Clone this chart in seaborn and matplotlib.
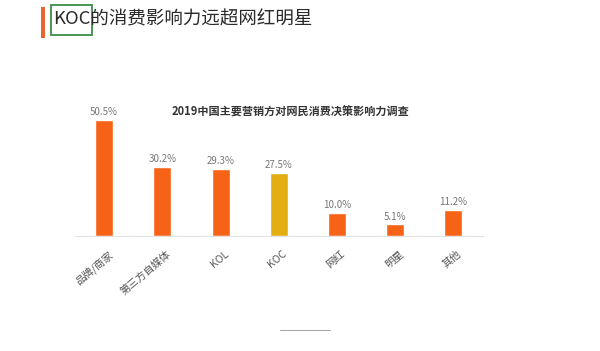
import matplotlib
matplotlib.use("Agg")
import matplotlib.pyplot as plt
import seaborn as sns
import pandas as pd
from matplotlib.patches import Rectangle
from matplotlib.lines import Line2D

categories = ["品牌/商家", "第三方自媒体", "KOL", "KOC", "网红", "明星", "其他"]
values = [50.5, 30.2, 29.3, 27.5, 10.0, 5.1, 11.2]
labels = ["50.5%", "30.2%", "29.3%", "27.5%", "10.0%", "5.1%", "11.2%"]
colors = ["#F76316", "#F76316", "#F76316", "#E3AE12", "#F76316", "#F76316", "#F76316"]

sns.set_theme(style="white")
plt.rcParams['font.family'] = ['Noto Sans CJK SC', 'DejaVu Sans']

fig = plt.figure(figsize=(6, 3.51), dpi=100)
ax = fig.add_axes([75/600, 1-236/351, 407.5/600, (55*2.3)/351])

df = pd.DataFrame({"cat": categories, "val": values})
sns.barplot(data=df, x="cat", y="val", hue="cat", palette=colors, legend=False,
            width=0.31, ax=ax, saturation=1)
ax.set_xlim(-0.5, 6.5)
ax.set_ylim(0, 55)
for i, (v, l) in enumerate(zip(values, labels)):
    ax.text(i, v + 1.2, l, ha="center", va="bottom", fontsize=7, color="#777777")
for s in ["top", "right", "left"]:
    ax.spines[s].set_visible(False)
ax.spines["bottom"].set_color("#e2e2e2")
ax.spines["bottom"].set_linewidth(0.8)
ax.set_yticks([])
ax.set_xlabel("")
ax.set_ylabel("")
ax.tick_params(axis="x", length=0, pad=9)
ax.set_xticks([i + 0.06 for i in range(len(categories))])
ax.set_xticklabels(categories, rotation=40, ha="right", rotation_mode="anchor",
                   fontsize=7.5, color="#555555")

fig.text(290/600, 1-112/351, "2019中国主要营销方对网民消费决策影响力调查",
         ha="center", va="center", fontsize=8, fontweight="bold", color="#333333")

# header
fig.add_artist(Rectangle((41/600, 1-38/351), 4/600, 31/351, transform=fig.transFigure,
                         color="#E8662E", lw=0))
fig.add_artist(Rectangle((51/600, 1-35/351), 41/600, 30/351, transform=fig.transFigure,
                         fill=False, edgecolor="#3E8E45", lw=1.3))
fig.text(53/600, 1-19/351, "KOC的消费影响力远超网红明星", ha="left", va="center",
         fontsize=13.3, color="#2a2a2a")

# faint bottom scroll line
fig.add_artist(Line2D([280/600, 330/600], [1-330/351, 1-330/351], transform=fig.transFigure,
                      color="#aaaaaa", lw=0.8))

fig.savefig("out.png", dpi=100)
